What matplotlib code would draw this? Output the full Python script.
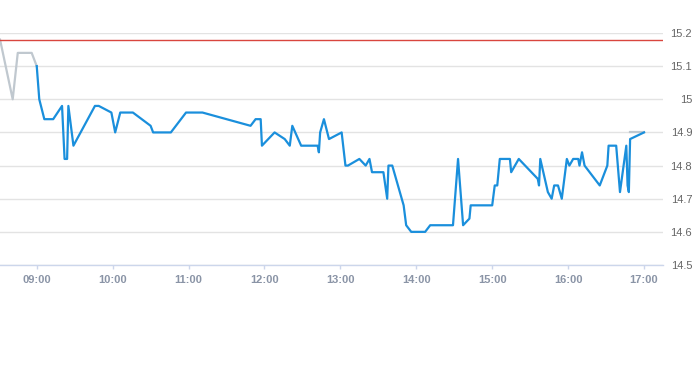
import matplotlib
matplotlib.use("Agg")
import matplotlib.pyplot as plt
from matplotlib.ticker import FixedLocator, FuncFormatter

plt.rcParams['font.family'] = ['Liberation Sans', 'DejaVu Sans']

# pre-open (grey) and after-close (grey) segments
pre_times = ["08:31", "08:41", "08:45", "08:56", "09:00"]
pre_values = [15.18, 15.00, 15.14, 15.14, 15.10]
post_times = ["16:49", "17:00"]
post_values = [14.90, 14.90]

# intraday price (blue)
times = ["09:00", "09:02", "09:06", "09:13", "09:20", "09:22", "09:24", "09:25",
         "09:29", "09:46", "09:49", "09:59", "10:02", "10:06", "10:16", "10:30",
         "10:32", "10:46", "10:58", "11:11", "11:49", "11:53", "11:57", "11:58",
         "12:08", "12:16", "12:20", "12:22", "12:29", "12:42", "12:43", "12:44",
         "12:47", "12:51", "13:01", "13:04", "13:06", "13:15", "13:20", "13:23",
         "13:25", "13:34", "13:37", "13:38", "13:41", "13:50", "13:52", "13:56",
         "14:07", "14:11", "14:29", "14:33", "14:37", "14:42", "14:43", "15:00",
         "15:02", "15:04", "15:06", "15:14", "15:15", "15:21", "15:36", "15:37",
         "15:38", "15:44", "15:47", "15:49", "15:52", "15:55", "15:59", "16:01",
         "16:04", "16:08", "16:09", "16:11", "16:13", "16:25", "16:31", "16:32",
         "16:38", "16:41", "16:46", "16:47", "16:48", "16:49", "17:00"]
values = [15.10, 15.00, 14.94, 14.94, 14.98, 14.82, 14.82, 14.98,
          14.86, 14.98, 14.98, 14.96, 14.90, 14.96, 14.96, 14.92,
          14.90, 14.90, 14.96, 14.96, 14.92, 14.94, 14.94, 14.86,
          14.90, 14.88, 14.86, 14.92, 14.86, 14.86, 14.84, 14.90,
          14.94, 14.88, 14.90, 14.80, 14.80, 14.82, 14.80, 14.82,
          14.78, 14.78, 14.70, 14.80, 14.80, 14.68, 14.62, 14.60,
          14.60, 14.62, 14.62, 14.82, 14.62, 14.64, 14.68, 14.68,
          14.74, 14.74, 14.82, 14.82, 14.78, 14.82, 14.76, 14.74,
          14.82, 14.72, 14.70, 14.74, 14.74, 14.70, 14.82, 14.80,
          14.82, 14.82, 14.80, 14.84, 14.80, 14.74, 14.80, 14.86,
          14.86, 14.72, 14.86, 14.74, 14.72, 14.88, 14.90]

prev_close = 15.18
hour_ticks = ["09:00", "10:00", "11:00", "12:00", "13:00", "14:00", "15:00", "16:00", "17:00"]
y_ticks = [14.5, 14.6, 14.7, 14.8, 14.9, 15.0, 15.1, 15.2]


def to_h(s):
    h, m = s.split(":")
    return int(h) + int(m) / 60


fig = plt.figure(figsize=(6.93, 3.65), dpi=100)
ax = fig.add_axes([0, 1 - 265 / 365, 663 / 693, 232 / 365])

ax.plot([to_h(t) for t in pre_times], pre_values, color="#c0c8cf", lw=1.6, zorder=2)
ax.plot([to_h(t) for t in post_times], post_values, color="#c0c8cf", lw=1.6, zorder=2)
ax.plot([to_h(t) for t in times], values, color="#1a8fdc", lw=1.6, zorder=3)
ax.axhline(prev_close, color="#d9463e", lw=1, zorder=2)

ax.set_xlim(8.516, 17.25)
ax.set_ylim(14.5, 15.2)

ax.xaxis.set_major_locator(FixedLocator([to_h(t) for t in hour_ticks]))
ax.set_xticklabels(hour_ticks)
ax.yaxis.set_major_locator(FixedLocator(y_ticks))
ax.yaxis.set_major_formatter(FuncFormatter(lambda v, p: f"{v:g}"))

ax.yaxis.tick_right()
ax.grid(axis="y", color="#e3e3e3", lw=1)
ax.set_axisbelow(True)
for s in ["top", "left", "right"]:
    ax.spines[s].set_visible(False)
ax.spines["bottom"].set_color("#ccd6eb")
ax.spines["bottom"].set_linewidth(1)

ax.tick_params(axis="x", length=3, width=1, color="#ccd6eb", pad=4,
               labelsize=8, labelcolor="#8a94a6")
for lbl in ax.get_xticklabels():
    lbl.set_fontweight("bold")
ax.tick_params(axis="y", length=0, pad=21, labelsize=8, labelcolor="#666666")
for lbl in ax.get_yticklabels():
    lbl.set_horizontalalignment("right")

fig.savefig("out.png", dpi=100)
